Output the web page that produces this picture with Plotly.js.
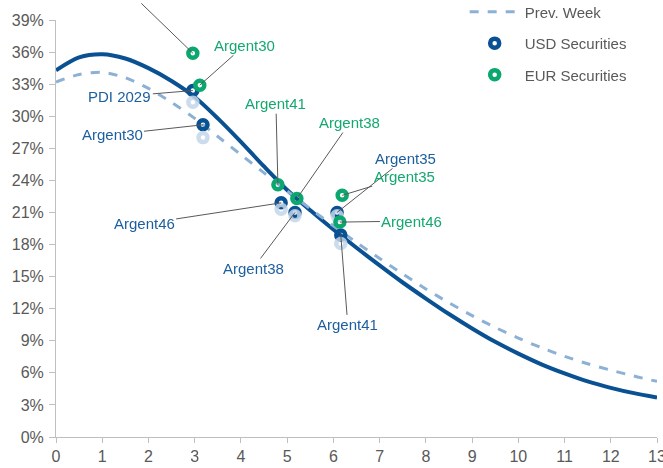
<!DOCTYPE html>
<html>
<head>
<meta charset="utf-8">
<script src="https://cdn.plot.ly/plotly-3.0.1.min.js"></script>
<style>html,body{margin:0;padding:0;background:#fff;}#chart{width:663px;height:468px;}</style>
</head>
<body>
<div id="chart"></div>
<script>
// ---- Data ----
const curveX = [0,0.5,1,1.5,2,2.5,3,3.5,4,4.5,5,5.5,6,6.5,7,7.5,8,8.5,9,9.5,10,10.5,11,11.5,12,12.5,13];
const currentCurve = [34.3,35.5,35.8,35.4,34.5,33.3,31.8,29.8,27.6,25.3,23.1,21.2,19.4,17.7,16.05,14.45,12.95,11.5,10.15,8.9,7.8,6.8,5.95,5.2,4.6,4.1,3.7];
const prevWeekCurve = [33.2,33.9,34.1,33.6,32.6,31.3,29.8,28.1,26.4,24.7,23.0,21.35,19.75,18.2,16.7,15.25,13.85,12.55,11.35,10.25,9.25,8.35,7.55,6.85,6.25,5.7,5.2];

const usdX = [2.96, 3.18, 4.87, 5.17, 6.08, 6.16];
const usdY = [32.4, 29.2, 21.9, 21.0, 21.0, 18.9];
const usdPrevY = [31.3, 28.0, 21.3, 20.7, 20.7, 18.1];
const usdLabels = ['PDI 2029', 'Argent30', 'Argent46', 'Argent38', 'Argent35', 'Argent41'];

const eurX = [2.96, 3.11, 4.80, 5.21, 6.19, 6.14];
const eurY = [35.9, 32.9, 23.6, 22.3, 22.6, 20.1];
const eurLabels = [' ', 'Argent30', 'Argent41', 'Argent38', 'Argent35', 'Argent46'];

const yTicks = [0,3,6,9,12,15,18,21,24,27,30,33,36,39];
const xTicks = [0,1,2,3,4,5,6,7,8,9,10,11,12,13];

// ---- Styles ----
const DARK = '#0a5193';
const GREEN = '#0aa86e';
const LIGHT_LINE = '#8db1d5';
const LIGHT_MARK = '#c4d6e9';
const BLUE_TXT = '#1c5e9e';
const GREEN_TXT = '#14a870';
const GRAY = '#595959';
const FONT = 'Liberation Sans, Arial, sans-serif';

// label offsets (pixels) for leader lines
const usdOffsets = [[-73,6],[-91,10],[-137,21],[-42,56],[68,-54],[7,90]];
const eurOffsets = [[-55,-70],[45,-40],[-2,-81],[53,-76],[62,-19],[72,-1]];

const markerBase = {symbol:'circle-open', size:9};

const traces = [
  {x:curveX, y:currentCurve, mode:'lines', line:{color:DARK, width:4, shape:'spline', smoothing:0.8}, showlegend:false, hoverinfo:'skip'},
  {x:curveX, y:prevWeekCurve, mode:'lines', name:'Prev. Week', legendgroup:'a', line:{color:LIGHT_LINE, width:3, dash:'dash', shape:'spline', smoothing:0.8}},
  {x:usdX, y:usdY, mode:'markers', name:'USD Securities', legendgroup:'b', marker:Object.assign({}, markerBase, {color:DARK, line:{width:4.5, color:DARK}})},
  {x:usdX, y:usdPrevY, mode:'markers', showlegend:false, marker:Object.assign({}, markerBase, {color:LIGHT_MARK, line:{width:4.5, color:LIGHT_MARK}}), opacity:0.85},
  {x:eurX, y:eurY, mode:'markers', name:'EUR Securities', legendgroup:'c', marker:Object.assign({}, markerBase, {color:GREEN, line:{width:4.5, color:GREEN}})}
];

const annotations = [];
usdLabels.forEach((t,i)=>annotations.push({x:usdX[i], y:usdY[i], text:t, ax:usdOffsets[i][0], ay:usdOffsets[i][1], showarrow:true, arrowhead:0, arrowwidth:1, arrowcolor:GRAY, standoff:0, font:{family:FONT, size:15, color:BLUE_TXT}}));
eurLabels.forEach((t,i)=>annotations.push({x:eurX[i], y:eurY[i], text:t, ax:eurOffsets[i][0], ay:eurOffsets[i][1], showarrow:true, arrowhead:0, arrowwidth:1, arrowcolor:GRAY, standoff:0, font:{family:FONT, size:15, color:GREEN_TXT}}));

const layout = {
  width:663, height:468,
  margin:{l:56, r:6, t:20, b:31, autoexpand:false},
  paper_bgcolor:'#fff', plot_bgcolor:'#fff',
  font:{family:FONT, color:GRAY},
  xaxis:{range:[0,13], tickvals:xTicks, ticktext:xTicks.map(String), showgrid:false, zeroline:false, showline:true, linecolor:'#bfbfbf', linewidth:1, ticks:'outside', ticklen:5, tickcolor:'#bfbfbf', tickfont:{family:FONT, size:16, color:GRAY}, ticklabeloverflow:'allow', automargin:false, fixedrange:true},
  yaxis:{range:[0,39], tickvals:yTicks, ticktext:yTicks.map(v=>v+'%'), showgrid:false, zeroline:false, showline:true, linecolor:'#bfbfbf', linewidth:1, ticks:'outside', ticklen:6, tickcolor:'#bfbfbf', tickfont:{family:FONT, size:16, color:GRAY}, ticklabelstandoff:2, automargin:false, fixedrange:true},
  legend:{x:0.68, y:1.059, xanchor:'left', yanchor:'top', bgcolor:'rgba(0,0,0,0)', font:{family:FONT, size:15, color:GRAY}, itemwidth:50, tracegroupgap:9},
  annotations:annotations,
  showlegend:true
};

Plotly.newPlot('chart', traces, layout, {displayModeBar:false, staticPlot:true});
</script>
</body>
</html>
